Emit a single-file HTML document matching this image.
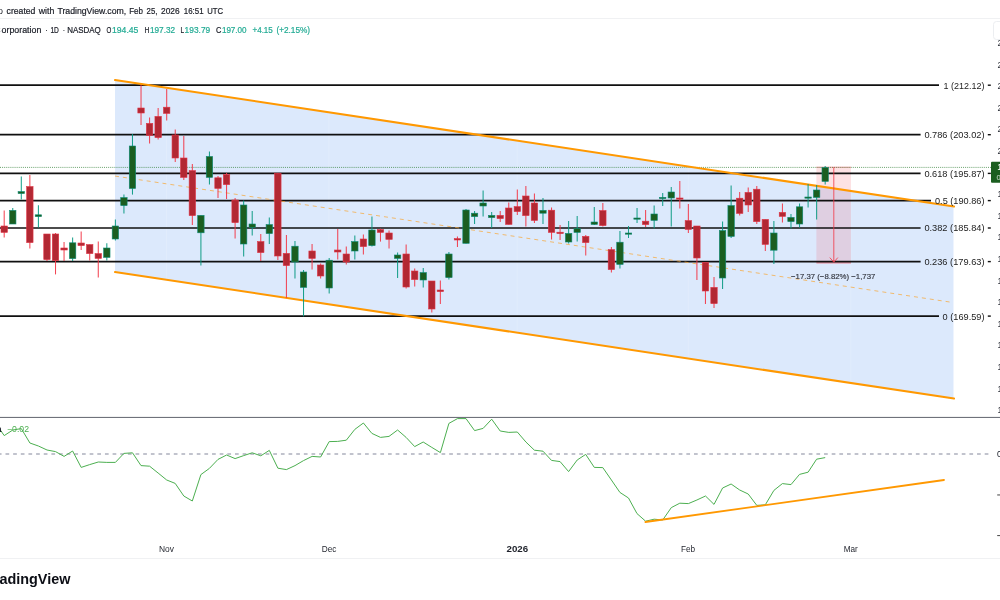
<!DOCTYPE html>
<html><head><meta charset="utf-8"><title>chart</title>
<style>html,body{margin:0;padding:0;background:#fff;width:1000px;height:600px;overflow:hidden;font-family:"Liberation Sans",sans-serif}</style></head>
<body>
<svg width="1000" height="600" viewBox="0 0 1000 600" style="position:absolute;left:0;top:0;font-family:'Liberation Sans',sans-serif;opacity:0.999;will-change:transform">
<rect width="1000" height="600" fill="#ffffff"/>
<rect x="0" y="18" width="1000" height="1" fill="#f0f1f3"/>
<rect x="993.5" y="21.5" width="12" height="18" rx="3" fill="#ffffff" stroke="#eceef1" stroke-width="1"/>
<polygon points="115.0,80.06 953.5,206.59 953.5,398.59 115.0,272.06" fill="#2f7bf0" fill-opacity="0.17"/>
<clipPath id="ch"><polygon points="115.0,80.06 953.5,206.59 953.5,398.59 115.0,272.06"/></clipPath>
<g clip-path="url(#ch)">
<rect x="166.1" y="19" width="1" height="397.5" fill="#ffffff" fill-opacity="0.16"/>
<rect x="328.4" y="19" width="1" height="397.5" fill="#ffffff" fill-opacity="0.16"/>
<rect x="516.7" y="19" width="1" height="397.5" fill="#ffffff" fill-opacity="0.16"/>
<rect x="687.8" y="19" width="1" height="397.5" fill="#ffffff" fill-opacity="0.16"/>
<rect x="850.3" y="19" width="1" height="397.5" fill="#ffffff" fill-opacity="0.16"/>
</g>
<rect x="816.4" y="167.2" width="34.6" height="95.2" fill="#f23645" fill-opacity="0.145"/>
<line x1="816.4" y1="167.2" x2="851" y2="167.2" stroke="#f23645" stroke-width="1" stroke-opacity="0.45"/>
<line x1="816.4" y1="262.9" x2="851" y2="262.9" stroke="#f23645" stroke-width="1" stroke-opacity="0.7"/>
<line x1="0" y1="167.4" x2="991" y2="167.4" stroke="#2e7d32" stroke-width="1" stroke-dasharray="1 1.08" stroke-opacity="0.72"/>
<line x1="0" y1="85.2" x2="939" y2="85.2" stroke="#101010" stroke-width="1.7"/>
<line x1="0" y1="134.7" x2="920.6" y2="134.7" stroke="#101010" stroke-width="1.7"/>
<line x1="0" y1="173.4" x2="920.6" y2="173.4" stroke="#101010" stroke-width="1.7"/>
<line x1="0" y1="200.6" x2="931" y2="200.6" stroke="#101010" stroke-width="1.7"/>
<line x1="0" y1="228.0" x2="920.6" y2="228.0" stroke="#101010" stroke-width="1.7"/>
<line x1="0" y1="261.6" x2="920.6" y2="261.6" stroke="#101010" stroke-width="1.7"/>
<line x1="0" y1="316.1" x2="939" y2="316.1" stroke="#101010" stroke-width="1.7"/>
<line x1="115.0" y1="176.06" x2="953.5" y2="302.59" stroke="#f7a83a" stroke-width="0.95" stroke-opacity="0.78" stroke-dasharray="4 4"/>
<line x1="115.0" y1="80.06" x2="954.0" y2="206.59" stroke="#ff9800" stroke-width="2.05" stroke-linecap="round"/>
<line x1="115.0" y1="272.06" x2="954.0" y2="398.59" stroke="#ff9800" stroke-width="2.05" stroke-linecap="round"/>
<line x1="4.20" y1="210.4" x2="4.20" y2="237.6" stroke="#f23645" stroke-width="1.05" stroke-opacity="0.92"/>
<rect x="1.00" y="226.0" width="6.4" height="6.40" fill="#b22833" stroke="#e03344" stroke-width="0.6"/>
<line x1="12.75" y1="208.0" x2="12.75" y2="224.0" stroke="#089981" stroke-width="1.05" stroke-opacity="0.92"/>
<rect x="9.55" y="210.4" width="6.4" height="13.60" fill="#1b5e20" stroke="#0a8a74" stroke-width="0.6"/>
<line x1="21.30" y1="176.6" x2="21.30" y2="199.6" stroke="#089981" stroke-width="1.05" stroke-opacity="0.92"/>
<rect x="18.10" y="191.6" width="6.4" height="2.00" fill="#1b5e20" stroke="#0a8a74" stroke-width="0.6"/>
<line x1="29.86" y1="175.0" x2="29.86" y2="248.6" stroke="#f23645" stroke-width="1.05" stroke-opacity="0.92"/>
<rect x="26.66" y="186.6" width="6.4" height="56.00" fill="#b22833" stroke="#e03344" stroke-width="0.6"/>
<line x1="38.41" y1="205.2" x2="38.41" y2="227.6" stroke="#089981" stroke-width="1.05" stroke-opacity="0.92"/>
<rect x="35.21" y="214.8" width="6.4" height="1.80" fill="#1b5e20" stroke="#0a8a74" stroke-width="0.6"/>
<line x1="46.96" y1="234.0" x2="46.96" y2="261.0" stroke="#f23645" stroke-width="1.05" stroke-opacity="0.92"/>
<rect x="43.76" y="234.0" width="6.4" height="25.60" fill="#b22833" stroke="#e03344" stroke-width="0.6"/>
<line x1="55.51" y1="233.0" x2="55.51" y2="274.4" stroke="#f23645" stroke-width="1.05" stroke-opacity="0.92"/>
<rect x="52.31" y="234.0" width="6.4" height="26.60" fill="#b22833" stroke="#e03344" stroke-width="0.6"/>
<line x1="64.06" y1="242.0" x2="64.06" y2="261.0" stroke="#f23645" stroke-width="1.05" stroke-opacity="0.92"/>
<rect x="60.86" y="248.0" width="6.4" height="2.00" fill="#b22833" stroke="#e03344" stroke-width="0.6"/>
<line x1="72.62" y1="237.6" x2="72.62" y2="261.0" stroke="#089981" stroke-width="1.05" stroke-opacity="0.92"/>
<rect x="69.42" y="242.8" width="6.4" height="15.80" fill="#1b5e20" stroke="#0a8a74" stroke-width="0.6"/>
<line x1="81.17" y1="231.6" x2="81.17" y2="250.0" stroke="#f23645" stroke-width="1.05" stroke-opacity="0.92"/>
<rect x="77.97" y="243.0" width="6.4" height="2.60" fill="#b22833" stroke="#e03344" stroke-width="0.6"/>
<line x1="89.72" y1="244.6" x2="89.72" y2="260.6" stroke="#f23645" stroke-width="1.05" stroke-opacity="0.92"/>
<rect x="86.52" y="244.6" width="6.4" height="9.00" fill="#b22833" stroke="#e03344" stroke-width="0.6"/>
<line x1="98.27" y1="241.4" x2="98.27" y2="277.4" stroke="#f23645" stroke-width="1.05" stroke-opacity="0.92"/>
<rect x="95.07" y="253.6" width="6.4" height="4.80" fill="#b22833" stroke="#e03344" stroke-width="0.6"/>
<line x1="106.82" y1="243.2" x2="106.82" y2="260.4" stroke="#089981" stroke-width="1.05" stroke-opacity="0.92"/>
<rect x="103.62" y="248.0" width="6.4" height="9.40" fill="#1b5e20" stroke="#0a8a74" stroke-width="0.6"/>
<line x1="115.38" y1="219.4" x2="115.38" y2="240.4" stroke="#089981" stroke-width="1.05" stroke-opacity="0.92"/>
<rect x="112.18" y="226.0" width="6.4" height="13.00" fill="#1b5e20" stroke="#0a8a74" stroke-width="0.6"/>
<line x1="123.93" y1="194.4" x2="123.93" y2="213.6" stroke="#089981" stroke-width="1.05" stroke-opacity="0.92"/>
<rect x="120.73" y="197.6" width="6.4" height="8.00" fill="#1b5e20" stroke="#0a8a74" stroke-width="0.6"/>
<line x1="132.48" y1="134.0" x2="132.48" y2="194.6" stroke="#089981" stroke-width="1.05" stroke-opacity="0.92"/>
<rect x="129.28" y="146.0" width="6.4" height="42.50" fill="#1b5e20" stroke="#0a8a74" stroke-width="0.6"/>
<line x1="141.03" y1="85.0" x2="141.03" y2="125.0" stroke="#f23645" stroke-width="1.05" stroke-opacity="0.92"/>
<rect x="137.83" y="108.0" width="6.4" height="5.00" fill="#b22833" stroke="#e03344" stroke-width="0.6"/>
<line x1="149.58" y1="117.4" x2="149.58" y2="143.6" stroke="#f23645" stroke-width="1.05" stroke-opacity="0.92"/>
<rect x="146.38" y="123.4" width="6.4" height="12.00" fill="#b22833" stroke="#e03344" stroke-width="0.6"/>
<line x1="158.14" y1="108.0" x2="158.14" y2="139.6" stroke="#f23645" stroke-width="1.05" stroke-opacity="0.92"/>
<rect x="154.94" y="116.4" width="6.4" height="21.20" fill="#b22833" stroke="#e03344" stroke-width="0.6"/>
<line x1="166.69" y1="89.0" x2="166.69" y2="120.6" stroke="#f23645" stroke-width="1.05" stroke-opacity="0.92"/>
<rect x="163.49" y="107.2" width="6.4" height="6.20" fill="#b22833" stroke="#e03344" stroke-width="0.6"/>
<line x1="175.24" y1="129.6" x2="175.24" y2="162.0" stroke="#f23645" stroke-width="1.05" stroke-opacity="0.92"/>
<rect x="172.04" y="135.0" width="6.4" height="23.00" fill="#b22833" stroke="#e03344" stroke-width="0.6"/>
<line x1="183.79" y1="136.0" x2="183.79" y2="180.0" stroke="#f23645" stroke-width="1.05" stroke-opacity="0.92"/>
<rect x="180.59" y="158.0" width="6.4" height="19.40" fill="#b22833" stroke="#e03344" stroke-width="0.6"/>
<line x1="192.34" y1="164.0" x2="192.34" y2="225.0" stroke="#f23645" stroke-width="1.05" stroke-opacity="0.92"/>
<rect x="189.14" y="170.6" width="6.4" height="45.00" fill="#b22833" stroke="#e03344" stroke-width="0.6"/>
<line x1="200.90" y1="215.4" x2="200.90" y2="265.6" stroke="#089981" stroke-width="1.05" stroke-opacity="0.92"/>
<rect x="197.70" y="215.4" width="6.4" height="17.40" fill="#1b5e20" stroke="#0a8a74" stroke-width="0.6"/>
<line x1="209.45" y1="151.4" x2="209.45" y2="184.6" stroke="#089981" stroke-width="1.05" stroke-opacity="0.92"/>
<rect x="206.25" y="156.5" width="6.4" height="20.90" fill="#1b5e20" stroke="#0a8a74" stroke-width="0.6"/>
<line x1="218.00" y1="176.0" x2="218.00" y2="198.0" stroke="#f23645" stroke-width="1.05" stroke-opacity="0.92"/>
<rect x="214.80" y="177.8" width="6.4" height="10.60" fill="#b22833" stroke="#e03344" stroke-width="0.6"/>
<line x1="226.55" y1="173.0" x2="226.55" y2="199.0" stroke="#f23645" stroke-width="1.05" stroke-opacity="0.92"/>
<rect x="223.35" y="174.6" width="6.4" height="10.00" fill="#b22833" stroke="#e03344" stroke-width="0.6"/>
<line x1="235.10" y1="198.0" x2="235.10" y2="238.6" stroke="#f23645" stroke-width="1.05" stroke-opacity="0.92"/>
<rect x="231.90" y="200.0" width="6.4" height="22.60" fill="#b22833" stroke="#e03344" stroke-width="0.6"/>
<line x1="243.66" y1="200.4" x2="243.66" y2="256.4" stroke="#089981" stroke-width="1.05" stroke-opacity="0.92"/>
<rect x="240.46" y="205.0" width="6.4" height="39.00" fill="#1b5e20" stroke="#0a8a74" stroke-width="0.6"/>
<line x1="252.21" y1="211.0" x2="252.21" y2="235.6" stroke="#089981" stroke-width="1.05" stroke-opacity="0.92"/>
<rect x="249.01" y="224.0" width="6.4" height="3.60" fill="#1b5e20" stroke="#0a8a74" stroke-width="0.6"/>
<line x1="260.76" y1="234.0" x2="260.76" y2="261.0" stroke="#f23645" stroke-width="1.05" stroke-opacity="0.92"/>
<rect x="257.56" y="241.6" width="6.4" height="11.00" fill="#b22833" stroke="#e03344" stroke-width="0.6"/>
<line x1="269.31" y1="217.4" x2="269.31" y2="244.0" stroke="#089981" stroke-width="1.05" stroke-opacity="0.92"/>
<rect x="266.11" y="224.6" width="6.4" height="9.00" fill="#1b5e20" stroke="#0a8a74" stroke-width="0.6"/>
<line x1="277.86" y1="173.2" x2="277.86" y2="260.0" stroke="#f23645" stroke-width="1.05" stroke-opacity="0.92"/>
<rect x="274.66" y="173.2" width="6.4" height="82.80" fill="#b22833" stroke="#e03344" stroke-width="0.6"/>
<line x1="286.42" y1="235.0" x2="286.42" y2="298.0" stroke="#f23645" stroke-width="1.05" stroke-opacity="0.92"/>
<rect x="283.22" y="253.4" width="6.4" height="12.20" fill="#b22833" stroke="#e03344" stroke-width="0.6"/>
<line x1="294.97" y1="241.0" x2="294.97" y2="278.6" stroke="#089981" stroke-width="1.05" stroke-opacity="0.92"/>
<rect x="291.77" y="246.2" width="6.4" height="15.80" fill="#1b5e20" stroke="#0a8a74" stroke-width="0.6"/>
<line x1="303.52" y1="270.0" x2="303.52" y2="316.4" stroke="#089981" stroke-width="1.05" stroke-opacity="0.92"/>
<rect x="300.32" y="272.0" width="6.4" height="15.40" fill="#1b5e20" stroke="#0a8a74" stroke-width="0.6"/>
<line x1="312.07" y1="244.0" x2="312.07" y2="269.4" stroke="#f23645" stroke-width="1.05" stroke-opacity="0.92"/>
<rect x="308.87" y="251.0" width="6.4" height="7.40" fill="#b22833" stroke="#e03344" stroke-width="0.6"/>
<line x1="320.62" y1="263.6" x2="320.62" y2="278.6" stroke="#f23645" stroke-width="1.05" stroke-opacity="0.92"/>
<rect x="317.42" y="265.0" width="6.4" height="11.00" fill="#b22833" stroke="#e03344" stroke-width="0.6"/>
<line x1="329.18" y1="258.0" x2="329.18" y2="293.6" stroke="#089981" stroke-width="1.05" stroke-opacity="0.92"/>
<rect x="325.98" y="260.2" width="6.4" height="27.80" fill="#1b5e20" stroke="#0a8a74" stroke-width="0.6"/>
<line x1="337.73" y1="229.0" x2="337.73" y2="259.6" stroke="#f23645" stroke-width="1.05" stroke-opacity="0.92"/>
<rect x="334.53" y="250.0" width="6.4" height="2.00" fill="#b22833" stroke="#e03344" stroke-width="0.6"/>
<line x1="346.28" y1="246.6" x2="346.28" y2="264.4" stroke="#f23645" stroke-width="1.05" stroke-opacity="0.92"/>
<rect x="343.08" y="254.0" width="6.4" height="8.00" fill="#b22833" stroke="#e03344" stroke-width="0.6"/>
<line x1="354.83" y1="235.4" x2="354.83" y2="259.6" stroke="#089981" stroke-width="1.05" stroke-opacity="0.92"/>
<rect x="351.63" y="241.6" width="6.4" height="9.40" fill="#1b5e20" stroke="#0a8a74" stroke-width="0.6"/>
<line x1="363.38" y1="234.4" x2="363.38" y2="254.6" stroke="#f23645" stroke-width="1.05" stroke-opacity="0.92"/>
<rect x="360.18" y="239.0" width="6.4" height="7.60" fill="#b22833" stroke="#e03344" stroke-width="0.6"/>
<line x1="371.94" y1="216.4" x2="371.94" y2="246.4" stroke="#089981" stroke-width="1.05" stroke-opacity="0.92"/>
<rect x="368.74" y="230.0" width="6.4" height="15.60" fill="#1b5e20" stroke="#0a8a74" stroke-width="0.6"/>
<line x1="380.49" y1="228.6" x2="380.49" y2="241.6" stroke="#f23645" stroke-width="1.05" stroke-opacity="0.92"/>
<rect x="377.29" y="229.6" width="6.4" height="2.80" fill="#b22833" stroke="#e03344" stroke-width="0.6"/>
<line x1="389.04" y1="230.4" x2="389.04" y2="248.4" stroke="#f23645" stroke-width="1.05" stroke-opacity="0.92"/>
<rect x="385.84" y="233.0" width="6.4" height="6.40" fill="#b22833" stroke="#e03344" stroke-width="0.6"/>
<line x1="397.59" y1="252.4" x2="397.59" y2="278.0" stroke="#089981" stroke-width="1.05" stroke-opacity="0.92"/>
<rect x="394.39" y="255.0" width="6.4" height="3.40" fill="#1b5e20" stroke="#0a8a74" stroke-width="0.6"/>
<line x1="406.14" y1="244.4" x2="406.14" y2="288.6" stroke="#f23645" stroke-width="1.05" stroke-opacity="0.92"/>
<rect x="402.94" y="254.0" width="6.4" height="33.00" fill="#b22833" stroke="#e03344" stroke-width="0.6"/>
<line x1="414.70" y1="268.6" x2="414.70" y2="286.4" stroke="#f23645" stroke-width="1.05" stroke-opacity="0.92"/>
<rect x="411.50" y="271.0" width="6.4" height="8.60" fill="#b22833" stroke="#e03344" stroke-width="0.6"/>
<line x1="423.25" y1="268.0" x2="423.25" y2="287.4" stroke="#089981" stroke-width="1.05" stroke-opacity="0.92"/>
<rect x="420.05" y="272.6" width="6.4" height="7.40" fill="#1b5e20" stroke="#0a8a74" stroke-width="0.6"/>
<line x1="431.80" y1="281.0" x2="431.80" y2="312.4" stroke="#f23645" stroke-width="1.05" stroke-opacity="0.92"/>
<rect x="428.60" y="281.0" width="6.4" height="28.00" fill="#b22833" stroke="#e03344" stroke-width="0.6"/>
<line x1="440.35" y1="280.4" x2="440.35" y2="304.0" stroke="#f23645" stroke-width="1.05" stroke-opacity="0.92"/>
<rect x="437.15" y="290.0" width="6.4" height="1.60" fill="#b22833" stroke="#e03344" stroke-width="0.6"/>
<line x1="448.90" y1="252.0" x2="448.90" y2="279.4" stroke="#089981" stroke-width="1.05" stroke-opacity="0.92"/>
<rect x="445.70" y="254.0" width="6.4" height="23.60" fill="#1b5e20" stroke="#0a8a74" stroke-width="0.6"/>
<line x1="457.46" y1="236.6" x2="457.46" y2="247.0" stroke="#f23645" stroke-width="1.05" stroke-opacity="0.92"/>
<rect x="454.26" y="238.6" width="6.4" height="1.40" fill="#b22833" stroke="#e03344" stroke-width="0.6"/>
<line x1="466.01" y1="209.0" x2="466.01" y2="243.6" stroke="#089981" stroke-width="1.05" stroke-opacity="0.92"/>
<rect x="462.81" y="210.0" width="6.4" height="33.30" fill="#1b5e20" stroke="#0a8a74" stroke-width="0.6"/>
<line x1="474.56" y1="211.0" x2="474.56" y2="224.0" stroke="#089981" stroke-width="1.05" stroke-opacity="0.92"/>
<rect x="471.36" y="213.2" width="6.4" height="3.40" fill="#1b5e20" stroke="#0a8a74" stroke-width="0.6"/>
<line x1="483.11" y1="190.6" x2="483.11" y2="216.4" stroke="#089981" stroke-width="1.05" stroke-opacity="0.92"/>
<rect x="479.91" y="203.0" width="6.4" height="3.00" fill="#1b5e20" stroke="#0a8a74" stroke-width="0.6"/>
<line x1="491.66" y1="212.0" x2="491.66" y2="228.0" stroke="#089981" stroke-width="1.05" stroke-opacity="0.92"/>
<rect x="488.46" y="215.4" width="6.4" height="2.20" fill="#1b5e20" stroke="#0a8a74" stroke-width="0.6"/>
<line x1="500.22" y1="211.0" x2="500.22" y2="222.0" stroke="#f23645" stroke-width="1.05" stroke-opacity="0.92"/>
<rect x="497.02" y="215.4" width="6.4" height="3.20" fill="#b22833" stroke="#e03344" stroke-width="0.6"/>
<line x1="508.77" y1="202.4" x2="508.77" y2="224.4" stroke="#f23645" stroke-width="1.05" stroke-opacity="0.92"/>
<rect x="505.57" y="208.0" width="6.4" height="16.40" fill="#b22833" stroke="#e03344" stroke-width="0.6"/>
<line x1="517.32" y1="189.6" x2="517.32" y2="215.0" stroke="#f23645" stroke-width="1.05" stroke-opacity="0.92"/>
<rect x="514.12" y="206.6" width="6.4" height="5.00" fill="#b22833" stroke="#e03344" stroke-width="0.6"/>
<line x1="525.87" y1="186.0" x2="525.87" y2="226.4" stroke="#f23645" stroke-width="1.05" stroke-opacity="0.92"/>
<rect x="522.67" y="196.0" width="6.4" height="19.60" fill="#b22833" stroke="#e03344" stroke-width="0.6"/>
<line x1="534.42" y1="193.4" x2="534.42" y2="223.0" stroke="#f23645" stroke-width="1.05" stroke-opacity="0.92"/>
<rect x="531.22" y="203.0" width="6.4" height="17.40" fill="#b22833" stroke="#e03344" stroke-width="0.6"/>
<line x1="542.98" y1="198.0" x2="542.98" y2="224.0" stroke="#089981" stroke-width="1.05" stroke-opacity="0.92"/>
<rect x="539.78" y="210.4" width="6.4" height="2.80" fill="#1b5e20" stroke="#0a8a74" stroke-width="0.6"/>
<line x1="551.53" y1="207.6" x2="551.53" y2="239.6" stroke="#f23645" stroke-width="1.05" stroke-opacity="0.92"/>
<rect x="548.33" y="210.2" width="6.4" height="22.20" fill="#b22833" stroke="#e03344" stroke-width="0.6"/>
<line x1="560.08" y1="225.0" x2="560.08" y2="240.0" stroke="#f23645" stroke-width="1.05" stroke-opacity="0.92"/>
<rect x="556.88" y="232.2" width="6.4" height="1.40" fill="#b22833" stroke="#e03344" stroke-width="0.6"/>
<line x1="568.63" y1="221.0" x2="568.63" y2="243.4" stroke="#089981" stroke-width="1.05" stroke-opacity="0.92"/>
<rect x="565.43" y="233.4" width="6.4" height="8.60" fill="#1b5e20" stroke="#0a8a74" stroke-width="0.6"/>
<line x1="577.18" y1="216.0" x2="577.18" y2="241.4" stroke="#089981" stroke-width="1.05" stroke-opacity="0.92"/>
<rect x="573.98" y="228.4" width="6.4" height="4.00" fill="#1b5e20" stroke="#0a8a74" stroke-width="0.6"/>
<line x1="585.74" y1="235.0" x2="585.74" y2="255.4" stroke="#f23645" stroke-width="1.05" stroke-opacity="0.92"/>
<rect x="582.54" y="236.4" width="6.4" height="6.20" fill="#b22833" stroke="#e03344" stroke-width="0.6"/>
<line x1="594.29" y1="207.0" x2="594.29" y2="225.0" stroke="#089981" stroke-width="1.05" stroke-opacity="0.92"/>
<rect x="591.09" y="222.0" width="6.4" height="2.40" fill="#1b5e20" stroke="#0a8a74" stroke-width="0.6"/>
<line x1="602.84" y1="203.0" x2="602.84" y2="226.6" stroke="#f23645" stroke-width="1.05" stroke-opacity="0.92"/>
<rect x="599.64" y="210.6" width="6.4" height="15.00" fill="#b22833" stroke="#e03344" stroke-width="0.6"/>
<line x1="611.39" y1="247.0" x2="611.39" y2="272.6" stroke="#f23645" stroke-width="1.05" stroke-opacity="0.92"/>
<rect x="608.19" y="249.6" width="6.4" height="20.00" fill="#b22833" stroke="#e03344" stroke-width="0.6"/>
<line x1="619.94" y1="231.0" x2="619.94" y2="268.4" stroke="#089981" stroke-width="1.05" stroke-opacity="0.92"/>
<rect x="616.74" y="242.2" width="6.4" height="22.20" fill="#1b5e20" stroke="#0a8a74" stroke-width="0.6"/>
<line x1="628.50" y1="226.0" x2="628.50" y2="238.0" stroke="#089981" stroke-width="1.05" stroke-opacity="0.92"/>
<rect x="625.30" y="233.0" width="6.4" height="1.20" fill="#1b5e20" stroke="#0a8a74" stroke-width="0.6"/>
<line x1="637.05" y1="208.0" x2="637.05" y2="223.0" stroke="#089981" stroke-width="1.05" stroke-opacity="0.92"/>
<rect x="633.85" y="218.0" width="6.4" height="1.20" fill="#1b5e20" stroke="#0a8a74" stroke-width="0.6"/>
<line x1="645.60" y1="210.0" x2="645.60" y2="227.0" stroke="#f23645" stroke-width="1.05" stroke-opacity="0.92"/>
<rect x="642.40" y="221.2" width="6.4" height="3.40" fill="#b22833" stroke="#e03344" stroke-width="0.6"/>
<line x1="654.15" y1="205.4" x2="654.15" y2="228.4" stroke="#089981" stroke-width="1.05" stroke-opacity="0.92"/>
<rect x="650.95" y="214.0" width="6.4" height="6.40" fill="#1b5e20" stroke="#0a8a74" stroke-width="0.6"/>
<line x1="662.70" y1="193.0" x2="662.70" y2="206.0" stroke="#089981" stroke-width="1.05" stroke-opacity="0.92"/>
<rect x="659.50" y="197.4" width="6.4" height="1.20" fill="#1b5e20" stroke="#0a8a74" stroke-width="0.6"/>
<line x1="671.26" y1="187.0" x2="671.26" y2="226.6" stroke="#089981" stroke-width="1.05" stroke-opacity="0.92"/>
<rect x="668.06" y="192.0" width="6.4" height="6.00" fill="#1b5e20" stroke="#0a8a74" stroke-width="0.6"/>
<line x1="679.81" y1="181.0" x2="679.81" y2="208.4" stroke="#f23645" stroke-width="1.05" stroke-opacity="0.92"/>
<rect x="676.61" y="198.0" width="6.4" height="1.20" fill="#b22833" stroke="#e03344" stroke-width="0.6"/>
<line x1="688.36" y1="204.0" x2="688.36" y2="233.0" stroke="#f23645" stroke-width="1.05" stroke-opacity="0.92"/>
<rect x="685.16" y="220.6" width="6.4" height="8.80" fill="#b22833" stroke="#e03344" stroke-width="0.6"/>
<line x1="696.91" y1="226.0" x2="696.91" y2="280.0" stroke="#f23645" stroke-width="1.05" stroke-opacity="0.92"/>
<rect x="693.71" y="226.0" width="6.4" height="32.00" fill="#b22833" stroke="#e03344" stroke-width="0.6"/>
<line x1="705.46" y1="262.4" x2="705.46" y2="304.0" stroke="#f23645" stroke-width="1.05" stroke-opacity="0.92"/>
<rect x="702.26" y="262.4" width="6.4" height="28.60" fill="#b22833" stroke="#e03344" stroke-width="0.6"/>
<line x1="714.02" y1="277.0" x2="714.02" y2="308.0" stroke="#f23645" stroke-width="1.05" stroke-opacity="0.92"/>
<rect x="710.82" y="287.4" width="6.4" height="16.20" fill="#b22833" stroke="#e03344" stroke-width="0.6"/>
<line x1="722.57" y1="221.6" x2="722.57" y2="289.0" stroke="#089981" stroke-width="1.05" stroke-opacity="0.92"/>
<rect x="719.37" y="230.6" width="6.4" height="47.40" fill="#1b5e20" stroke="#0a8a74" stroke-width="0.6"/>
<line x1="731.12" y1="185.6" x2="731.12" y2="238.0" stroke="#089981" stroke-width="1.05" stroke-opacity="0.92"/>
<rect x="727.92" y="205.6" width="6.4" height="30.80" fill="#1b5e20" stroke="#0a8a74" stroke-width="0.6"/>
<line x1="739.67" y1="192.0" x2="739.67" y2="215.6" stroke="#f23645" stroke-width="1.05" stroke-opacity="0.92"/>
<rect x="736.47" y="198.2" width="6.4" height="15.20" fill="#b22833" stroke="#e03344" stroke-width="0.6"/>
<line x1="748.22" y1="187.4" x2="748.22" y2="212.0" stroke="#f23645" stroke-width="1.05" stroke-opacity="0.92"/>
<rect x="745.02" y="192.4" width="6.4" height="12.60" fill="#b22833" stroke="#e03344" stroke-width="0.6"/>
<line x1="756.78" y1="186.0" x2="756.78" y2="224.0" stroke="#f23645" stroke-width="1.05" stroke-opacity="0.92"/>
<rect x="753.58" y="189.2" width="6.4" height="32.40" fill="#b22833" stroke="#e03344" stroke-width="0.6"/>
<line x1="765.33" y1="219.4" x2="765.33" y2="251.0" stroke="#f23645" stroke-width="1.05" stroke-opacity="0.92"/>
<rect x="762.13" y="219.4" width="6.4" height="25.00" fill="#b22833" stroke="#e03344" stroke-width="0.6"/>
<line x1="773.88" y1="221.0" x2="773.88" y2="264.0" stroke="#089981" stroke-width="1.05" stroke-opacity="0.92"/>
<rect x="770.68" y="233.0" width="6.4" height="17.20" fill="#1b5e20" stroke="#0a8a74" stroke-width="0.6"/>
<line x1="782.43" y1="203.6" x2="782.43" y2="222.6" stroke="#f23645" stroke-width="1.05" stroke-opacity="0.92"/>
<rect x="779.23" y="212.4" width="6.4" height="4.00" fill="#b22833" stroke="#e03344" stroke-width="0.6"/>
<line x1="790.98" y1="214.0" x2="790.98" y2="228.6" stroke="#089981" stroke-width="1.05" stroke-opacity="0.92"/>
<rect x="787.78" y="217.4" width="6.4" height="4.20" fill="#1b5e20" stroke="#0a8a74" stroke-width="0.6"/>
<line x1="799.54" y1="203.6" x2="799.54" y2="227.6" stroke="#089981" stroke-width="1.05" stroke-opacity="0.92"/>
<rect x="796.34" y="206.8" width="6.4" height="17.20" fill="#1b5e20" stroke="#0a8a74" stroke-width="0.6"/>
<line x1="808.09" y1="184.0" x2="808.09" y2="207.6" stroke="#089981" stroke-width="1.05" stroke-opacity="0.92"/>
<rect x="804.89" y="197.0" width="6.4" height="1.20" fill="#1b5e20" stroke="#0a8a74" stroke-width="0.6"/>
<line x1="816.64" y1="185.0" x2="816.64" y2="219.6" stroke="#089981" stroke-width="1.05" stroke-opacity="0.92"/>
<rect x="813.44" y="190.0" width="6.4" height="7.40" fill="#1b5e20" stroke="#0a8a74" stroke-width="0.6"/>
<line x1="825.19" y1="166.0" x2="825.19" y2="184.6" stroke="#089981" stroke-width="1.05" stroke-opacity="0.92"/>
<rect x="821.99" y="167.6" width="6.4" height="13.80" fill="#1b5e20" stroke="#0a8a74" stroke-width="0.6"/>
<line x1="833.8" y1="167.2" x2="833.8" y2="262" stroke="#f23645" stroke-width="1" stroke-opacity="0.8"/>
<path d="M829.8 257.6 L833.8 262.2 L837.8 257.6" fill="none" stroke="#f23645" stroke-width="1" stroke-opacity="0.8"/>
<text x="791" y="279.3" font-size="7.9" fill="#33363f" stroke="#33363f" stroke-width="0.15" textLength="84.40" lengthAdjust="spacingAndGlyphs">−17.37 (−8.82%) −1,737</text>
<text x="943.5" y="88.6" font-size="8.8" fill="#1c1c1c" textLength="41.00" lengthAdjust="spacingAndGlyphs">1 (212.12)</text>
<rect x="987.8" y="84.5" width="3" height="1.4" fill="#111"/>
<text x="924.4" y="138.1" font-size="8.8" fill="#1c1c1c" textLength="60.10" lengthAdjust="spacingAndGlyphs">0.786 (203.02)</text>
<rect x="987.8" y="134.0" width="3" height="1.4" fill="#111"/>
<text x="924.4" y="176.8" font-size="8.8" fill="#1c1c1c" textLength="60.10" lengthAdjust="spacingAndGlyphs">0.618 (195.87)</text>
<rect x="987.8" y="172.7" width="3" height="1.4" fill="#111"/>
<text x="935.0" y="204.0" font-size="8.8" fill="#1c1c1c" textLength="49.50" lengthAdjust="spacingAndGlyphs">0.5 (190.86)</text>
<rect x="987.8" y="199.9" width="3" height="1.4" fill="#111"/>
<text x="924.4" y="231.4" font-size="8.8" fill="#1c1c1c" textLength="60.10" lengthAdjust="spacingAndGlyphs">0.382 (185.84)</text>
<rect x="987.8" y="227.3" width="3" height="1.4" fill="#111"/>
<text x="924.4" y="265.0" font-size="8.8" fill="#1c1c1c" textLength="60.10" lengthAdjust="spacingAndGlyphs">0.236 (179.63)</text>
<rect x="987.8" y="260.9" width="3" height="1.4" fill="#111"/>
<text x="942.6" y="319.5" font-size="8.8" fill="#1c1c1c" textLength="41.90" lengthAdjust="spacingAndGlyphs">0 (169.59)</text>
<rect x="987.8" y="315.4" width="3" height="1.4" fill="#111"/>
<text x="997.5" y="46.0" font-size="8.6" fill="#2a2d36">2</text>
<text x="997.5" y="67.6" font-size="8.6" fill="#2a2d36">2</text>
<text x="997.5" y="89.2" font-size="8.6" fill="#2a2d36">2</text>
<text x="997.5" y="110.8" font-size="8.6" fill="#2a2d36">2</text>
<text x="997.5" y="132.4" font-size="8.6" fill="#2a2d36">2</text>
<text x="997.5" y="154.0" font-size="8.6" fill="#2a2d36">2</text>
<text x="997.5" y="197.2" font-size="8.6" fill="#2a2d36">1</text>
<text x="997.5" y="218.8" font-size="8.6" fill="#2a2d36">1</text>
<text x="997.5" y="240.4" font-size="8.6" fill="#2a2d36">1</text>
<text x="997.5" y="262.0" font-size="8.6" fill="#2a2d36">1</text>
<text x="997.5" y="283.6" font-size="8.6" fill="#2a2d36">1</text>
<text x="997.5" y="305.2" font-size="8.6" fill="#2a2d36">1</text>
<text x="997.5" y="326.8" font-size="8.6" fill="#2a2d36">1</text>
<text x="997.5" y="348.4" font-size="8.6" fill="#2a2d36">1</text>
<text x="997.5" y="370.0" font-size="8.6" fill="#2a2d36">1</text>
<text x="997.5" y="391.6" font-size="8.6" fill="#2a2d36">1</text>
<text x="997.5" y="413.2" font-size="8.6" fill="#2a2d36">1</text>
<rect x="991" y="161.8" width="12" height="21" rx="1" fill="#1b5e20"/>
<text x="997.3" y="170" font-size="8.6" fill="#ffffff">1</text>
<text x="996.6" y="180" font-size="7.6" fill="#ffffff" fill-opacity="0.8">0</text>
<rect x="0" y="416.9" width="1000" height="1.1" fill="#6f727b"/>
<line x1="-2.15" y1="454" x2="990.5" y2="454" stroke="#c1c3cd" stroke-width="2" stroke-dasharray="3.7 3.95"/>
<text x="997" y="456.8" font-size="8.6" fill="#131722">0</text>
<rect x="997.2" y="494.4" width="4" height="1.1" fill="#555"/>
<rect x="997.2" y="535" width="4" height="1.1" fill="#555"/>
<polyline fill="none" stroke="#4caf50" stroke-width="1" stroke-linejoin="round" points="0.0,429.5 4.2,435.6 12.8,430.0 21.3,428.6 29.9,443.0 38.4,446.0 47.0,450.0 55.5,451.6 64.1,456.4 72.6,451.0 81.2,467.4 89.7,464.6 98.3,462.0 106.8,462.4 115.4,462.4 123.9,453.4 132.5,452.8 141.0,465.6 149.6,466.2 158.1,473.0 166.7,480.0 175.2,483.4 183.8,496.0 192.3,501.0 200.9,474.6 209.4,468.4 218.0,459.4 226.6,455.0 235.1,458.6 243.7,455.6 252.2,452.8 260.8,455.8 269.3,450.4 277.9,468.2 286.4,469.6 295.0,465.6 303.5,460.6 312.1,456.4 320.6,457.0 329.2,441.6 337.7,441.4 346.3,440.2 354.8,429.4 363.4,423.0 371.9,433.4 380.5,437.4 389.0,436.4 397.6,430.0 406.1,437.4 414.7,446.6 423.2,442.0 431.8,447.4 440.4,452.6 448.9,423.4 457.5,418.6 466.0,418.6 474.6,430.6 483.1,428.4 491.7,419.2 500.2,431.0 508.8,432.4 517.3,432.0 525.9,442.0 534.4,450.2 543.0,451.2 551.5,460.4 560.1,461.6 568.6,471.6 577.2,460.0 585.7,454.4 594.3,467.4 602.8,467.6 611.4,480.0 619.9,492.4 628.5,498.0 637.0,513.6 645.6,521.2 654.2,519.2 662.7,520.0 671.3,507.6 679.8,503.2 688.4,503.6 696.9,500.0 705.5,496.0 714.0,504.4 722.6,488.0 731.1,484.0 739.7,490.0 748.2,494.0 756.8,505.4 765.3,504.8 773.9,490.4 782.4,483.6 791.0,484.6 799.5,474.4 808.1,472.2 816.6,459.2 825.2,457.6"/>
<line x1="645.4" y1="522" x2="944" y2="480" stroke="#ff9800" stroke-width="1.8" stroke-linecap="round"/>
<text x="-3.6" y="431.8" font-size="9" fill="#131722" font-weight="bold">a</text>
<text x="7" y="431.6" font-size="8.7" fill="#4caf50" textLength="22.00" lengthAdjust="spacingAndGlyphs">−0.02</text>
<text x="159" y="552" font-size="8.3" fill="#1f222b" textLength="15.00" lengthAdjust="spacingAndGlyphs">Nov</text>
<text x="321.8" y="552" font-size="8.3" fill="#1f222b" textLength="14.70" lengthAdjust="spacingAndGlyphs">Dec</text>
<text x="506.5" y="552" font-size="8.3" fill="#1f222b" font-weight="bold" textLength="21.70" lengthAdjust="spacingAndGlyphs">2026</text>
<text x="681" y="552" font-size="8.3" fill="#1f222b" textLength="14.20" lengthAdjust="spacingAndGlyphs">Feb</text>
<text x="843.7" y="552" font-size="8.3" fill="#1f222b" textLength="14.10" lengthAdjust="spacingAndGlyphs">Mar</text>
<rect x="0" y="558" width="1000" height="1" fill="#f0f1f3"/>
<text x="-1.9" y="14" font-size="8.9" fill="#1a1d26">o</text>
<text x="6.6" y="14" font-size="8.9" fill="#1a1d26" stroke="#1a1d26" stroke-width="0.2" textLength="28.80" lengthAdjust="spacingAndGlyphs">created</text>
<text x="38.7" y="14" font-size="8.9" fill="#1a1d26" stroke="#1a1d26" stroke-width="0.2" textLength="15.60" lengthAdjust="spacingAndGlyphs">with</text>
<text x="57.4" y="14" font-size="8.9" fill="#1a1d26" stroke="#1a1d26" stroke-width="0.2" textLength="68.80" lengthAdjust="spacingAndGlyphs">TradingView.com,</text>
<text x="129.2" y="14" font-size="8.9" fill="#1a1d26" stroke="#1a1d26" stroke-width="0.2" textLength="13.80" lengthAdjust="spacingAndGlyphs">Feb</text>
<text x="146.6" y="14" font-size="8.9" fill="#1a1d26" stroke="#1a1d26" stroke-width="0.2" textLength="10.80" lengthAdjust="spacingAndGlyphs">25,</text>
<text x="161" y="14" font-size="8.9" fill="#1a1d26" stroke="#1a1d26" stroke-width="0.2" textLength="18.60" lengthAdjust="spacingAndGlyphs">2026</text>
<text x="183.8" y="14" font-size="8.9" fill="#1a1d26" stroke="#1a1d26" stroke-width="0.2" textLength="19.80" lengthAdjust="spacingAndGlyphs">16:51</text>
<text x="207.2" y="14" font-size="8.9" fill="#1a1d26" stroke="#1a1d26" stroke-width="0.2" textLength="15.90" lengthAdjust="spacingAndGlyphs">UTC</text>
<text x="-5.4" y="32.8" font-size="8.6" fill="#1a1d26">C</text>
<text x="1.6" y="32.8" font-size="8.5" fill="#1a1d26" stroke="#1a1d26" stroke-width="0.2" textLength="39.70" lengthAdjust="spacingAndGlyphs">orporation</text>
<text x="50.4" y="32.8" font-size="8.5" fill="#1a1d26" stroke="#1a1d26" stroke-width="0.2" textLength="8.50" lengthAdjust="spacingAndGlyphs">1D</text>
<text x="67.2" y="32.8" font-size="8.5" fill="#1a1d26" stroke="#1a1d26" stroke-width="0.2" textLength="33.60" lengthAdjust="spacingAndGlyphs">NASDAQ</text>
<text x="106.4" y="32.8" font-size="8.5" fill="#1a1d26" stroke="#1a1d26" stroke-width="0.2" textLength="4.80" lengthAdjust="spacingAndGlyphs">O</text>
<text x="112" y="32.8" font-size="8.5" fill="#22ab94" stroke="#22ab94" stroke-width="0.2" textLength="26.40" lengthAdjust="spacingAndGlyphs">194.45</text>
<text x="144.5" y="32.8" font-size="8.5" fill="#1a1d26" stroke="#1a1d26" stroke-width="0.2" textLength="4.90" lengthAdjust="spacingAndGlyphs">H</text>
<text x="149.9" y="32.8" font-size="8.5" fill="#22ab94" stroke="#22ab94" stroke-width="0.2" textLength="25.20" lengthAdjust="spacingAndGlyphs">197.32</text>
<text x="180.5" y="32.8" font-size="8.5" fill="#1a1d26" stroke="#1a1d26" stroke-width="0.2" textLength="3.60" lengthAdjust="spacingAndGlyphs">L</text>
<text x="184.6" y="32.8" font-size="8.5" fill="#22ab94" stroke="#22ab94" stroke-width="0.2" textLength="25.60" lengthAdjust="spacingAndGlyphs">193.79</text>
<text x="216" y="32.8" font-size="8.5" fill="#1a1d26" stroke="#1a1d26" stroke-width="0.2" textLength="5.40" lengthAdjust="spacingAndGlyphs">C</text>
<text x="221.9" y="32.8" font-size="8.5" fill="#22ab94" stroke="#22ab94" stroke-width="0.2" textLength="24.70" lengthAdjust="spacingAndGlyphs">197.00</text>
<text x="252.5" y="32.8" font-size="8.5" fill="#22ab94" stroke="#22ab94" stroke-width="0.2" textLength="20.30" lengthAdjust="spacingAndGlyphs">+4.15</text>
<text x="276.4" y="32.8" font-size="8.5" fill="#22ab94" stroke="#22ab94" stroke-width="0.2" textLength="33.70" lengthAdjust="spacingAndGlyphs">(+2.15%)</text>
<text x="44.9" y="32.8" font-size="8.5" fill="#1a1d26">·</text>
<text x="62.4" y="32.8" font-size="8.5" fill="#1a1d26">·</text>
<text x="-0.6" y="584.2" font-size="14.2" font-weight="bold" fill="#0c0e15" textLength="71" lengthAdjust="spacingAndGlyphs">adingView</text>
</svg>
</body></html>
